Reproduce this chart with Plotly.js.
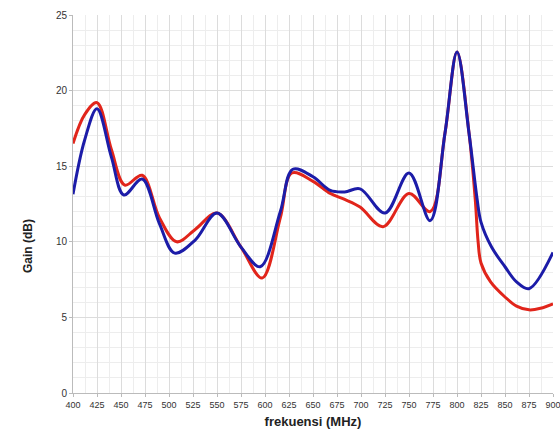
<!DOCTYPE html>
<html>
<head>
<meta charset="utf-8">
<script src="https://cdn.plot.ly/plotly-3.0.1.min.js"></script>
<style>html,body{margin:0;padding:0;background:#fff;}#chart{width:560px;height:432px;}</style>
</head>
<body>
<div id="chart"></div>
<script>
// Red series (frequency MHz, gain dB)
const redFreq = [400, 412, 425, 440, 454, 472, 490, 508, 527, 550, 575, 597, 616, 628, 650, 668, 683, 699, 723, 750, 772, 787.5, 800, 812.5, 819, 822, 825, 835, 850, 862, 875, 887, 900];
const redGain = [16.5, 18.4, 19.2, 16.1, 13.75, 14.4, 11.6, 10.0, 10.8, 11.9, 9.65, 7.6, 11.6, 14.55, 14.0, 13.2, 12.8, 12.3, 11.0, 13.2, 12.0, 17.2, 22.55, 17.2, 12.8, 10.0, 8.6, 7.35, 6.35, 5.75, 5.5, 5.6, 5.9];
// Blue series
const blueFreq = [400, 412, 425, 440, 453, 472, 490, 506, 527, 550, 575, 595, 616, 629, 650, 668, 683, 699, 725, 750, 772, 787.5, 800, 812.5, 821, 825, 836, 850, 862, 875, 900];
const blueGain = [13.15, 16.7, 18.8, 15.6, 13.1, 14.15, 11.2, 9.25, 10.1, 11.9, 9.65, 8.35, 12.0, 14.8, 14.3, 13.4, 13.3, 13.5, 11.9, 14.55, 11.4, 17.2, 22.55, 17.2, 12.8, 11.3, 9.65, 8.35, 7.35, 6.9, 9.3];
const xTicks = [400,425,450,475,500,525,550,575,600,625,650,675,700,725,750,775,800,825,850,875,900];
const yTicks = [0,5,10,15,20,25];

const traces = [
  {x: redFreq, y: redGain, type: 'scatter', mode: 'lines',
   line: {color: '#e1251b', width: 3, shape: 'spline', smoothing: 1}, showlegend: false, hoverinfo: 'x+y'},
  {x: blueFreq, y: blueGain, type: 'scatter', mode: 'lines',
   line: {color: '#1c1ca8', width: 3, shape: 'spline', smoothing: 1}, showlegend: false, hoverinfo: 'x+y'}
];

const fnt = 'Liberation Sans, Arial, sans-serif';
const layout = {
  width: 560, height: 432,
  margin: {l: 73, r: 7, t: 15, b: 39},
  paper_bgcolor: '#ffffff', plot_bgcolor: '#ffffff',
  font: {family: fnt, color: '#333'},
  xaxis: {
    range: [400, 900], tickvals: xTicks, ticktext: xTicks.map(String),
    tickfont: {size: 9, color: '#333'}, ticks: 'outside', ticklen: 3, tickcolor: '#bbb',
    ticklabeloverflow: 'allow',
    showline: true, linecolor: '#bbb', linewidth: 1,
    showgrid: true, gridcolor: '#dcdcdc', gridwidth: 1,
    minor: {dtick: 12.5, showgrid: true, gridcolor: '#ededed', gridwidth: 1},
    zeroline: false,
    title: {text: '<b>frekuensi (MHz)</b>', font: {size: 13, color: '#222'}, standoff: 8}
  },
  yaxis: {
    range: [0, 25], tickvals: yTicks, ticktext: yTicks.map(String),
    tickfont: {size: 10, color: '#333'}, ticks: 'outside', ticklen: 3, tickcolor: '#bbb',
    showline: true, linecolor: '#bbb', linewidth: 1,
    showgrid: true, gridcolor: '#dcdcdc', gridwidth: 1,
    minor: {dtick: 1, showgrid: true, gridcolor: '#ededed', gridwidth: 1},
    zeroline: false
  },
  annotations: [{
    text: '<b>Gain (dB)</b>', xref: 'paper', yref: 'paper',
    x: -0.095, y: 0.39, xanchor: 'center', yanchor: 'middle',
    textangle: -90, showarrow: false, font: {size: 12, color: '#222', family: fnt}
  }]
};

Plotly.newPlot('chart', traces, layout, {staticPlot: true, displayModeBar: false});
</script>
</body>
</html>
